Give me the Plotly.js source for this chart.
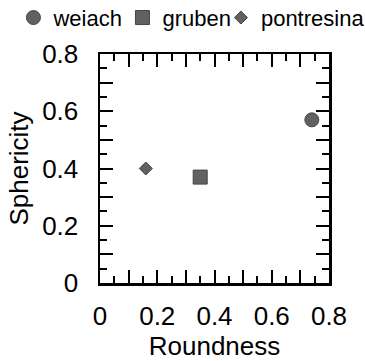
<!DOCTYPE html>
<html><head><meta charset="utf-8">
<script src="https://cdn.plot.ly/plotly-3.0.1.min.js"></script>
<style>html,body{margin:0;padding:0;background:#fff}</style>
</head><body>
<div id="chart" style="width:365px;height:361px"></div>
<script>
const seriesNames = ['weiach', 'gruben', 'pontresina'];
const roundness = [0.74, 0.35, 0.16];
const sphericity = [0.57, 0.37, 0.40];
const symbols = ['circle', 'square', 'diamond'];
const sizes = [14, 14, 10];
const legendWidths = [64, 0, 0];
const legendIds = ['legend', 'legend', 'legend2'];
const tickVals = [0, 0.1, 0.2, 0.3, 0.4, 0.5, 0.6, 0.7, 0.8];
const tickText = ['0', '', '0.2', '', '0.4', '', '0.6', '', '0.8'];

const traces = seriesNames.map((n, i) => ({
  type: 'scatter', mode: 'markers', name: n,
  x: [roundness[i]], y: [sphericity[i]],
  legend: legendIds[i],
  legendwidth: legendWidths[i],
  marker: {symbol: symbols[i], size: sizes[i], color: '#616161', line: {color: '#444', width: 1}}
}));

const font = {family: 'Liberation Sans, Arial, sans-serif', color: '#000'};
function axis(title, standoff, tstand) {
  return {
    range: [0, 0.8], tickmode: 'array', tickvals: tickVals, ticktext: tickText,
    ticks: 'inside', ticklen: 13, tickwidth: 2, tickcolor: '#000',
    minor: {tickmode: 'linear', tick0: 0, dtick: 0.05, ticks: 'inside', ticklen: 7, tickwidth: 2, tickcolor: '#000', showgrid: false},
    showline: true, linewidth: 2.5, linecolor: '#000', mirror: 'allticks',
    showgrid: false, zeroline: false, fixedrange: true,
    tickfont: Object.assign({size: 26}, font),
    ticklabelstandoff: standoff,
    title: {text: title, font: Object.assign({size: 26}, font), standoff: tstand}
  };
}
function legendCfg(x) {
  return {orientation: 'h', x: x, xanchor: 'left', y: 1.25, yanchor: 'top',
    font: Object.assign({size: 22}, font), itemwidth: 30, tracegroupgap: 0,
    bgcolor: 'rgba(0,0,0,0)'};
}
const layout = {
  width: 365, height: 361,
  margin: {l: 100, r: 36, t: 54, b: 78, autoexpand: false},
  paper_bgcolor: '#fff', plot_bgcolor: '#fff',
  showlegend: true,
  legend: legendCfg(-0.378),
  legend2: legendCfg(0.528),
  xaxis: axis('Roundness', 8, 12),
  yaxis: axis('Sphericity', 14, 6)
};
Plotly.newPlot('chart', traces, layout, {displayModeBar: false, staticPlot: true});
</script>
</body></html>
